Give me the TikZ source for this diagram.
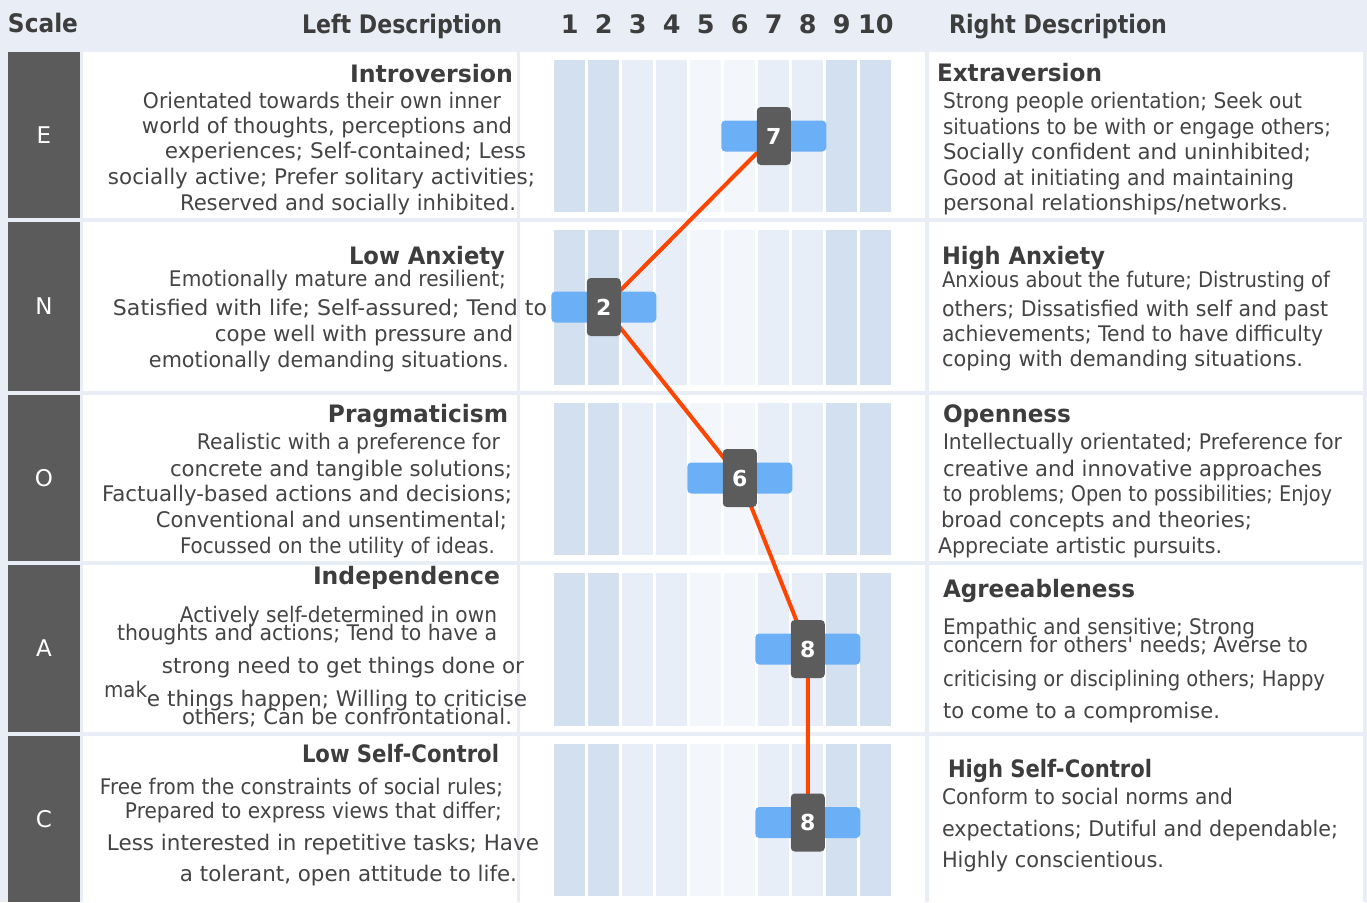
\documentclass[tikz,border=0pt]{standalone}
\usepackage{fontspec}
\usepackage{graphicx}
\setmainfont{DejaVu Sans}
\definecolor{bgc}{HTML}{E9EEF6}
\definecolor{scalec}{HTML}{5B5B5B}
\definecolor{barA}{HTML}{D3E0F0}
\definecolor{barB}{HTML}{E8EEF8}
\definecolor{barC}{HTML}{F3F7FC}
\definecolor{markblue}{HTML}{6BAFF7}
\definecolor{markdark}{HTML}{5C5C5C}
\definecolor{trendc}{HTML}{FF4500}
\definecolor{textc}{HTML}{444444}
\definecolor{headc}{HTML}{3D3D3D}
\tikzset{
  txt/.style={inner sep=0pt, text=textc, font=\fontsize{21.5}{25}\selectfont},
  head/.style={inner sep=0pt, text=headc, font=\fontsize{24}{28}\selectfont\bfseries},
  colhead/.style={inner sep=0pt, text=headc, font=\fontsize{25.5}{30}\selectfont\bfseries},
  scaletxt/.style={inner sep=0pt, text=white, font=\fontsize{23}{27}\selectfont},
  bluebar/.style={rectangle, rounded corners=4pt, fill=markblue, minimum width=105pt, minimum height=31pt, inner sep=0pt},
  valbox/.style={rectangle, rounded corners=4pt, fill=markdark, minimum width=34pt, minimum height=58pt, inner sep=0pt, text=white, font=\fontsize{22}{26}\selectfont\bfseries},
  trend/.style={draw=trendc, line width=4pt, line join=round, line cap=round}
}
% body line: name, x0, x1, visual centre y, text
\newcommand\bodyl[5]{\pgfmathsetmacro\mywd{#3-#2}\node[txt,anchor=base] (#1) at ({(#2+#3)/2},{#4+6.5}) {\resizebox{\mywd pt}{\height}{#5}};}
% heading line: name, x0, x1, visual centre y, text
\newcommand\headl[5]{\pgfmathsetmacro\mywd{#3-#2}\node[head,anchor=base] (#1) at ({(#2+#3)/2},{#4+9.5}) {\resizebox{\mywd pt}{\height}{#5}};}
% column header: name, x0, x1, baseline, text
\newcommand\colh[5]{\pgfmathsetmacro\mywd{#3-#2}\node[colhead,anchor=base] (#1) at ({(#2+#3)/2},#4) {\resizebox{\mywd pt}{\height}{#5}};}
\begin{document}
\begin{tikzpicture}[x=1pt,y=-1pt]
\useasboundingbox (0,0) rectangle (1367,902);
\fill[bgc] (0,0) rectangle (1367,902);

% column headers
\colh{hScale}{8}{78}{32}{Scale}
\colh{hLeft}{302}{502}{33}{Left Description}
\colh{hRight}{949}{1167}{33}{Right Description}
\foreach \i in {1,...,10} {
  \node[colhead,anchor=base] (num\i) at ({569.8+34*(\i-1)},33) {\i};
}

% rows: panels, scale boxes, bars
\foreach \t/\b/\l in {52/218/E, 222/391/N, 395/561/O, 565/732/A, 736/902/C} {
  \fill[scalec] (8,\t) rectangle (80,\b);
  \node[scaletxt] (S\l) at (44,{(\t+\b)/2}) {\l};
  \fill[white] (83,\t) rectangle (517,\b);
  \fill[white] (520,\t) rectangle (925,\b);
  \fill[white] (929,\t) rectangle (1363,\b);
  \foreach \i/\c in {0/barA,1/barA,2/barB,3/barB,4/barC,5/barC,6/barB,7/barB,8/barA,9/barA} {
    \fill[\c] ({554.3+34*\i},{\t+8}) rectangle ({585.3+34*\i},{\b-6});
  }
}

% profile line and markers
\coordinate (pE) at (773.8,136);
\coordinate (pN) at (603.8,307);
\coordinate (pO) at (739.8,478);
\coordinate (pA) at (807.8,649);
\coordinate (pC) at (807.8,822.5);
\draw[trend] (pE) -- (pN) -- (pO) -- (pA) -- (pC);
\foreach \p/\v in {E/7, N/2, O/6, A/8, C/8} {
  \node[bluebar] (b\p) at (p\p) {};
  \node[valbox] (v\p) at (p\p) {\v};
}

% ---- Row E ----
\headl{El0}{350}{513}{73}{Introversion}
\bodyl{El1}{143}{501}{102}{Orientated towards their own inner}
\bodyl{El2}{142}{512}{127}{world of thoughts, perceptions and}
\bodyl{El3}{165}{526}{152}{experiences; Self-contained; Less}
\bodyl{El4}{108}{535}{178}{socially active; Prefer solitary activities;}
\bodyl{El5}{180}{516}{204}{Reserved and socially inhibited.}
\headl{Er0}{937}{1102}{72}{Extraversion}
\bodyl{Er1}{943}{1302}{102}{Strong people orientation; Seek out}
\bodyl{Er2}{943}{1331}{128}{situations to be with or engage others;}
\bodyl{Er3}{943}{1311}{153}{Socially confident and uninhibited;}
\bodyl{Er4}{943}{1294}{179}{Good at initiating and maintaining}
\bodyl{Er5}{943}{1288}{204}{personal relationships/networks.}

% ---- Row N ----
\headl{Nl0}{349}{505}{255}{Low Anxiety}
\bodyl{Nl1}{169}{506}{280}{Emotionally mature and resilient;}
\bodyl{Nl2}{113}{547}{309}{Satisfied with life; Self-assured; Tend to}
\bodyl{Nl3}{215}{513}{335}{cope well with pressure and}
\bodyl{Nl4}{149}{509}{361}{emotionally demanding situations.}
\headl{Nr0}{942}{1105}{255}{High Anxiety}
\bodyl{Nr1}{942}{1330}{281}{Anxious about the future; Distrusting of}
\bodyl{Nr2}{942}{1328}{310}{others; Dissatisfied with self and past}
\bodyl{Nr3}{942}{1323}{335}{achievements; Tend to have difficulty}
\bodyl{Nr4}{942}{1303}{360}{coping with demanding situations.}

% ---- Row O ----
\headl{Ol0}{328}{508}{413}{Pragmaticism}
\bodyl{Ol1}{197}{500}{443}{Realistic with a preference for}
\bodyl{Ol2}{170}{512}{470}{concrete and tangible solutions;}
\bodyl{Ol3}{102}{512}{495}{Factually-based actions and decisions;}
\bodyl{Ol4}{156}{507}{521}{Conventional and unsentimental;}
\bodyl{Ol5}{180}{495}{547}{Focussed on the utility of ideas.}
\headl{Or0}{943}{1071}{413}{Openness}
\bodyl{Or1}{943}{1342}{443}{Intellectually orientated; Preference for}
\bodyl{Or2}{943}{1322}{470}{creative and innovative approaches}
\bodyl{Or3}{943}{1332}{495}{to problems; Open to possibilities; Enjoy}
\bodyl{Or4}{941}{1252}{521}{broad concepts and theories;}
\bodyl{Or5}{938}{1222}{547}{Appreciate artistic pursuits.}

% ---- Row A ----
\headl{Al0}{313}{500}{575}{Independence}
\bodyl{Al1}{180}{497}{616}{Actively self-determined in own}
\bodyl{Al2}{117}{497}{634}{thoughts and actions; Tend to have a}
\bodyl{Al3}{162}{524}{667}{strong need to get things done or}
\bodyl{Al4a}{104}{147}{691}{mak}
\bodyl{Al4b}{147}{527}{700}{e things happen; Willing to criticise}
\bodyl{Al5}{182}{512}{718}{others; Can be confrontational.}
\headl{Ar0}{943}{1135}{588}{Agreeableness}
\bodyl{Ar1}{943}{1255}{628}{Empathic and sensitive; Strong}
\bodyl{Ar2}{943}{1308}{646}{concern for others\textquotesingle{} needs; Averse to}
\bodyl{Ar3}{943}{1325}{680}{criticising or disciplining others; Happy}
\bodyl{Ar4}{943}{1220}{712}{to come to a compromise.}

% ---- Row C ----
\headl{Cl0}{302}{499}{753}{Low Self-Control}
\bodyl{Cl1}{100}{503}{788}{Free from the constraints of social rules;}
\bodyl{Cl2}{125}{502}{812}{Prepared to express views that differ;}
\bodyl{Cl3}{107}{539}{844}{Less interested in repetitive tasks; Have}
\bodyl{Cl4}{180}{517}{875}{a tolerant, open attitude to life.}
\headl{Cr0}{948}{1152}{768}{High Self-Control}
\bodyl{Cr1}{942}{1233}{798}{Conform to social norms and}
\bodyl{Cr2}{942}{1338}{830}{expectations; Dutiful and dependable;}
\bodyl{Cr3}{942}{1164}{861}{Highly conscientious.}
\end{tikzpicture}
\end{document}
